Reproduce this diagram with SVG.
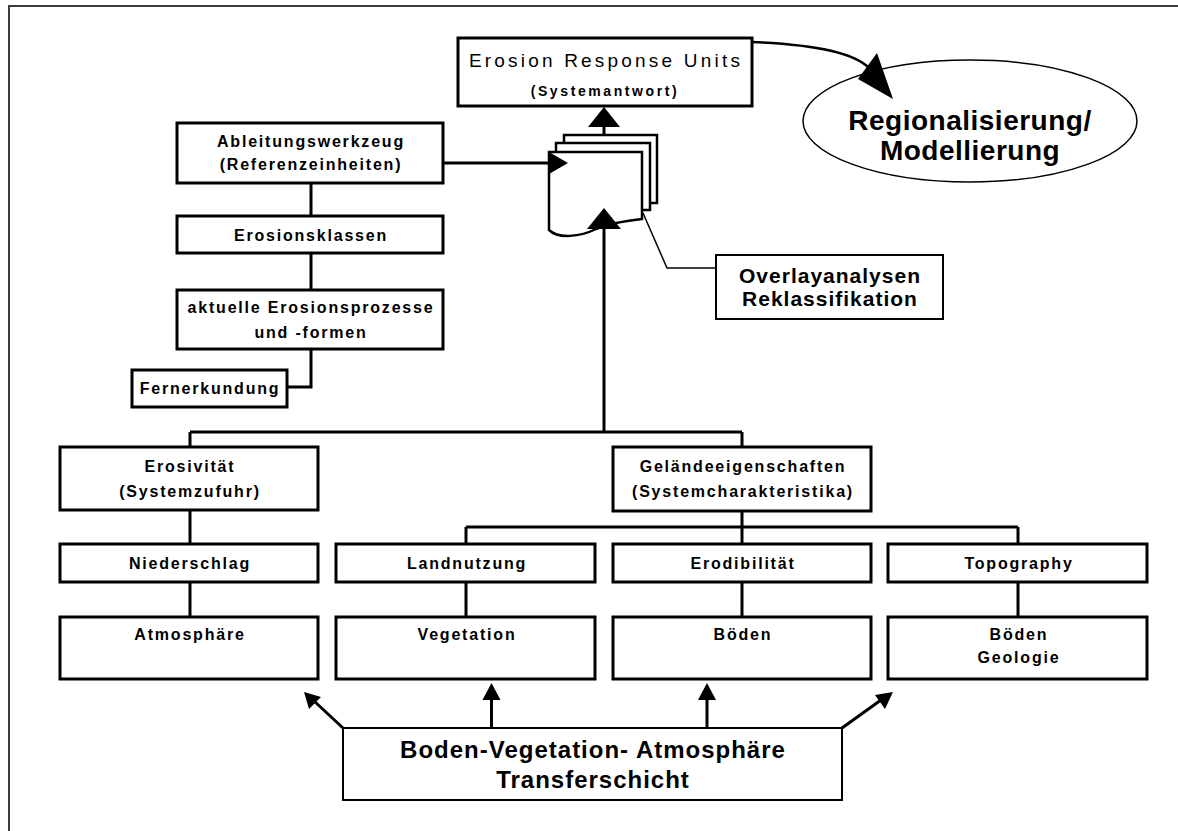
<svg xmlns="http://www.w3.org/2000/svg" width="1178" height="831" viewBox="0 0 1178 831">
<style>
.bx{fill:#fff;stroke:#000;stroke-width:3}
.bt{fill:#fff;stroke:#000;stroke-width:2}
.t{font-family:"Liberation Sans",Arial,sans-serif;font-weight:bold;font-size:16px;letter-spacing:1.8px;text-anchor:middle;fill:#000}
.tb{font-family:"Liberation Sans",Arial,sans-serif;font-weight:bold;text-anchor:middle;fill:#000}
.ln{fill:none;stroke:#000;stroke-width:3}
.ah{fill:#000;stroke:none}
.pg{fill:#fff;stroke:#000;stroke-width:2.5}
</style>
<rect x="0" y="0" width="1178" height="831" fill="#fff"/>
<path d="M9,831 V6 H1178" fill="none" stroke="#3c3c3c" stroke-width="2"/>

<g id="documents">
  <rect class="pg" x="564" y="135" width="93" height="68"/>
  <rect class="pg" x="556" y="143" width="94" height="67"/>
  <path class="pg" d="M549,152 H642 V219 C625,221 610,223 596,229 C580,237 558,239 549,230 Z"/>
</g>

<g id="eru">
  <rect class="bx" x="458" y="38" width="294" height="68"/>
  <text font-family="'Liberation Sans',Arial,sans-serif" font-size="19" letter-spacing="3.2" text-anchor="middle" x="606" y="67">Erosion Response Units</text>
  <text class="tb" font-size="14" letter-spacing="2.6" x="605" y="96">(Systemantwort)</text>
</g>

<g id="regionalisierung">
  <ellipse cx="970" cy="121" rx="167" ry="61" fill="#fff" stroke="#000" stroke-width="1.5"/>
  <text class="tb" font-size="28" letter-spacing="0.5" x="970" y="130">Regionalisierung/</text>
  <text class="tb" font-size="28" letter-spacing="0.5" x="970" y="160">Modellierung</text>
</g>

<g id="ableitung">
  <rect class="bx" x="177" y="123" width="266" height="60"/>
  <text class="t" x="311" y="147">Ableitungswerkzeug</text>
  <text class="t" x="311" y="170">(Referenzeinheiten)</text>
</g>
<g id="erosionsklassen">
  <rect class="bx" x="177" y="216" width="266" height="37"/>
  <text class="t" x="311" y="241">Erosionsklassen</text>
</g>
<g id="aktuelle">
  <rect class="bx" x="177" y="290" width="266" height="59"/>
  <text class="t" x="311" y="313">aktuelle Erosionsprozesse</text>
  <text class="t" x="311" y="338">und -formen</text>
</g>
<g id="fernerkundung">
  <rect class="bx" x="132" y="370" width="155" height="37"/>
  <text class="t" x="210" y="394">Fernerkundung</text>
</g>
<g id="overlay">
  <rect class="bt" x="716" y="255" width="227" height="64"/>
  <text class="tb" font-size="21" letter-spacing="1" x="830" y="283">Overlayanalysen</text>
  <text class="tb" font-size="21" letter-spacing="1" x="830" y="306">Reklassifikation</text>
</g>

<g id="erosivitaet">
  <rect class="bx" x="60" y="447" width="258" height="63"/>
  <text class="t" x="190" y="472">Erosivität</text>
  <text class="t" x="190" y="497">(Systemzufuhr)</text>
</g>
<g id="gelaende">
  <rect class="bx" x="613" y="447" width="258" height="64"/>
  <text class="t" x="743" y="472">Geländeeigenschaften</text>
  <text class="t" x="743" y="497">(Systemcharakteristika)</text>
</g>
<g id="niederschlag">
  <rect class="bx" x="60" y="544" width="258" height="38"/>
  <text class="t" x="190" y="569">Niederschlag</text>
</g>
<g id="landnutzung">
  <rect class="bx" x="336" y="544" width="259" height="38"/>
  <text class="t" x="467" y="569">Landnutzung</text>
</g>
<g id="erodibilitaet">
  <rect class="bx" x="613" y="544" width="258" height="38"/>
  <text class="t" x="743" y="569">Erodibilität</text>
</g>
<g id="topography">
  <rect class="bx" x="888" y="544" width="259" height="38"/>
  <text class="t" x="1019" y="569">Topography</text>
</g>
<g id="atmosphaere">
  <rect class="bx" x="60" y="617" width="258" height="62"/>
  <text class="t" x="190" y="640">Atmosphäre</text>
</g>
<g id="vegetation">
  <rect class="bx" x="336" y="617" width="259" height="62"/>
  <text class="t" x="467" y="640">Vegetation</text>
</g>
<g id="boeden">
  <rect class="bx" x="613" y="617" width="258" height="62"/>
  <text class="t" x="743" y="640">Böden</text>
</g>
<g id="boeden-geologie">
  <rect class="bx" x="888" y="617" width="259" height="62"/>
  <text class="t" x="1019" y="640">Böden</text>
  <text class="t" x="1019" y="663">Geologie</text>
</g>
<g id="transfer">
  <rect class="bt" x="343" y="728" width="499" height="72"/>
  <text class="tb" font-size="24" letter-spacing="1" x="593" y="758">Boden-Vegetation- Atmosphäre</text>
  <text class="tb" font-size="24" letter-spacing="1" x="593" y="788">Transferschicht</text>
</g>

<g id="connectors">
  <path class="ln" d="M311,183 V216 M311,253 V290 M311,349 V387 H287"/>
  <path class="ln" stroke-width="4" d="M443,163 H552"/>
  <polygon class="ah" points="568,163 549,152 549,174"/>
  <path class="ln" d="M190,432 H742 M190,432 V447 M742,432 V447 M604,432 V226"/>
  <polygon class="ah" points="604,208 587,229 621,229"/>
  <path class="ln" d="M604,135 V125"/>
  <polygon class="ah" points="604,107 588,127 620,127"/>
  <path class="ln" d="M190,510 V544 M190,582 V617"/>
  <path class="ln" d="M466,527 H1018 M742,511 V544 M466,527 V544 M1018,527 V544"/>
  <path class="ln" d="M466,582 V617 M742,582 V617 M1018,582 V617"/>
  <path class="ln" d="M491.5,728 V697 M707,728 V697"/>
  <polygon class="ah" points="491.5,683 482.5,700 500.5,700"/>
  <polygon class="ah" points="707,683 698,700 716,700"/>
  <path class="ln" d="M343,728 L314,701"/>
  <polygon class="ah" points="304,692 321,697 309,709"/>
  <path class="ln" d="M842,728 L881,700"/>
  <polygon class="ah" points="893,692 875,695 885,709"/>
  <path fill="none" stroke="#000" stroke-width="1.5" d="M643,213 L667,268 H716"/>
  <path fill="none" stroke="#000" stroke-width="2.5" d="M752,42 C805,44 850,50 868,67"/>
  <polygon class="ah" points="893,99 877,53 858,79"/>
</g>
</svg>
